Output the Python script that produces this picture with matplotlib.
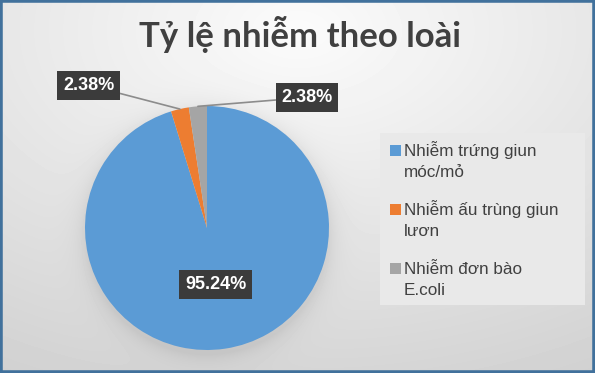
import numpy as np
import matplotlib.pyplot as plt
from matplotlib.patches import Rectangle

categories = ["Nhiễm trứng giun\nmóc/mỏ", "Nhiễm ấu trùng giun\nlươn", "Nhiễm đơn bào\nE.coli"]
values = [95.24, 2.38, 2.38]
pct_labels = ["95.24%", "2.38%", "2.38%"]
colors = ["#5b9bd5", "#ed7d31", "#a5a5a5"]

W, H = 595, 373
fig = plt.figure(figsize=(W / 100, H / 100), dpi=100)

# nen gradient xam + bong mo duoi hinh tron
cx, cy, R = 207, 228, 122
bg = fig.add_axes([0, 0, 1, 1], zorder=0)
yy, xx = np.mgrid[0:H, 0:W]
d = np.sqrt(((xx - W * 0.5) / W) ** 2 + ((yy - 30) / H) ** 2)
img = 0.985 - 0.16 * d
rr = np.sqrt((xx - cx) ** 2 + (yy - cy - 4) ** 2)
img -= 0.07 * np.exp(-np.clip(rr - R, 0, None) / 10.0)
bg.imshow(img, cmap="gray", vmin=0, vmax=1, aspect="auto", extent=(0, W, H, 0))
bg.axis("off")

fig.patches.append(Rectangle((0, 0), 1, 1, transform=fig.transFigure, fill=False,
                             edgecolor="#41719c", linewidth=4, zorder=10))

fig.text(300 / W, 1 - 47 / H, "Tỷ lệ nhiễm theo loài", ha="center", va="baseline",
         fontsize=25, fontweight="bold", color="#404040",
         family=["Lato", "Noto Sans", "DejaVu Sans"])

# hinh tron
ax = fig.add_axes([(cx - R) / W, 1 - (cy + R) / H, 2 * R / W, 2 * R / H], zorder=2)
ax.pie(values, colors=colors, startangle=90, counterclock=False, radius=1,
       wedgeprops=dict(linewidth=0))
ax.set_xlim(-1, 1)
ax.set_ylim(-1, 1)
ax.axis("off")

fracs = np.array(values) / sum(values)
mids = np.deg2rad(90 - 360 * (np.cumsum(fracs) - fracs / 2))

label_pos = [None, (-0.97, 1.17), (0.82, 1.07)]
box = dict(boxstyle="square,pad=0.32", facecolor="#3b3b3b", edgecolor="none")
lab_font = dict(fontsize=13, fontweight="bold", color="white",
                family=["Liberation Sans", "DejaVu Sans"], ha="center", va="center")
for i, lab in enumerate(pct_labels):
    if label_pos[i] is None:
        ax.text(0.47 * np.cos(mids[i]), 0.47 * np.sin(mids[i]), lab, bbox=box, **lab_font)
    else:
        ax.annotate(lab, xy=(np.cos(mids[i]), np.sin(mids[i])), xytext=label_pos[i],
                    bbox=box, annotation_clip=False,
                    arrowprops=dict(arrowstyle="-", color="#8c8c8c", lw=1.2,
                                    shrinkA=0, shrinkB=0), **lab_font)

# chu giai (ve tay de o vuong canh dong dau)
fig.patches.append(Rectangle((380 / W, 1 - 305 / H), 205 / W, 172 / H,
                             transform=fig.transFigure, facecolor="#e9e9e9",
                             edgecolor="none", zorder=1))
first_base = 156
entry_gap = 59
line_gap = 21
sq = 11
for i, (lab, c) in enumerate(zip(categories, colors)):
    base = first_base + i * entry_gap
    fig.patches.append(Rectangle((390 / W, 1 - base / H), sq / W, sq / H,
                                 transform=fig.transFigure, facecolor=c,
                                 edgecolor="none", zorder=3))
    for j, line in enumerate(lab.split("\n")):
        fig.text(404 / W, 1 - (base + j * line_gap) / H, line, ha="left", va="baseline",
                 fontsize=12.3, color="#404040", family=["Liberation Sans", "DejaVu Sans"],
                 zorder=3)

fig.savefig("out.png", dpi=100)
